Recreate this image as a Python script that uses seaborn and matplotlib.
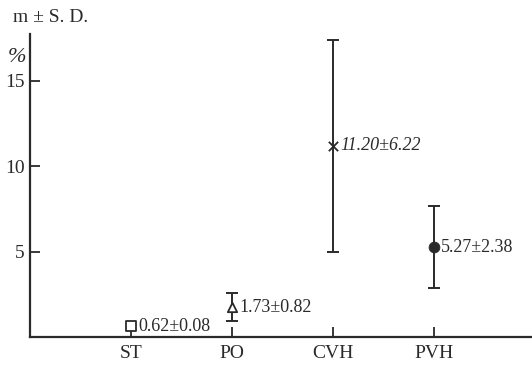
import matplotlib
matplotlib.use("Agg")
import matplotlib.pyplot as plt
import seaborn as sns
import pandas as pd

groups = ["ST", "PO", "CVH", "PVH"]
means = [0.62, 1.73, 11.20, 5.27]
sds = [0.08, 0.82, 6.22, 2.38]
labels = ["0.62±0.08", "1.73±0.82", "11.20±6.22", "5.27±2.38"]
yticks = [5, 10, 15]

sns.set_style("ticks")
plt.rcParams["font.family"] = ["Liberation Serif", "DejaVu Serif"]

ink = "#2a2a2a"
fig = plt.figure(figsize=(5.32, 3.65), dpi=100)
ax = fig.add_axes([30/532, 28/365, 1 - 30/532, 303/365])

df = pd.DataFrame({"pos": range(1, len(groups) + 1), "mean": means, "group": groups})

for i, (m, s) in enumerate(zip(means, sds)):
    ax.errorbar(i + 1, m, yerr=s, fmt="none", ecolor=ink, elinewidth=1.4,
                capsize=0 if s < 0.2 else 4.5, capthick=1.4, zorder=2)

markers = {"ST": "s", "PO": "^", "CVH": "X", "PVH": "o"}
for g, mk in markers.items():
    sub = df[df["group"] == g]
    if g == "PVH":
        sns.scatterplot(data=sub, x="pos", y="mean", marker="o", s=60,
                        color=ink, edgecolor=ink, ax=ax, zorder=3)
    elif g == "CVH":
        sns.scatterplot(data=sub, x="pos", y="mean", marker="x", s=45,
                        color=ink, linewidth=1.3, ax=ax, zorder=3)
    else:
        sns.scatterplot(data=sub, x="pos", y="mean", marker=mk, s=45,
                        facecolor="white", edgecolor=ink, linewidth=1.3, ax=ax, zorder=3)

for i, (m, lab) in enumerate(zip(means, labels)):
    style = "italic" if groups[i] == "CVH" else "normal"
    ax.annotate(lab, (i + 1, m), xytext=(5, 0), textcoords="offset points",
                va="center", ha="left", fontsize=13, color=ink, style=style)

ax.set_xlim(0, 4.97)
ax.set_ylim(0, 17.75)
ax.set_xticks(range(1, len(groups) + 1))
ax.set_xticklabels(groups)
ax.set_yticks(yticks)
ax.set_yticklabels([str(t) for t in yticks])
ax.tick_params(direction="in", length=7, width=1.3, colors=ink, labelsize=14,
               labelcolor=ink, pad=4)
ax.tick_params(axis="x", pad=6)
ax.set_xlabel("")
ax.set_ylabel("")
sns.despine(ax=ax)
for sp in ("left", "bottom"):
    ax.spines[sp].set_linewidth(1.6)
    ax.spines[sp].set_color(ink)

fig.text(13/532, 1 - 18/365, "m ± S. D.", fontsize=14, color=ink, va="center", ha="left")
fig.text(8/532, 1 - 57/365, "%", fontsize=16, color=ink, va="center", ha="left", style="italic")

fig.savefig("out.png", dpi=100)
